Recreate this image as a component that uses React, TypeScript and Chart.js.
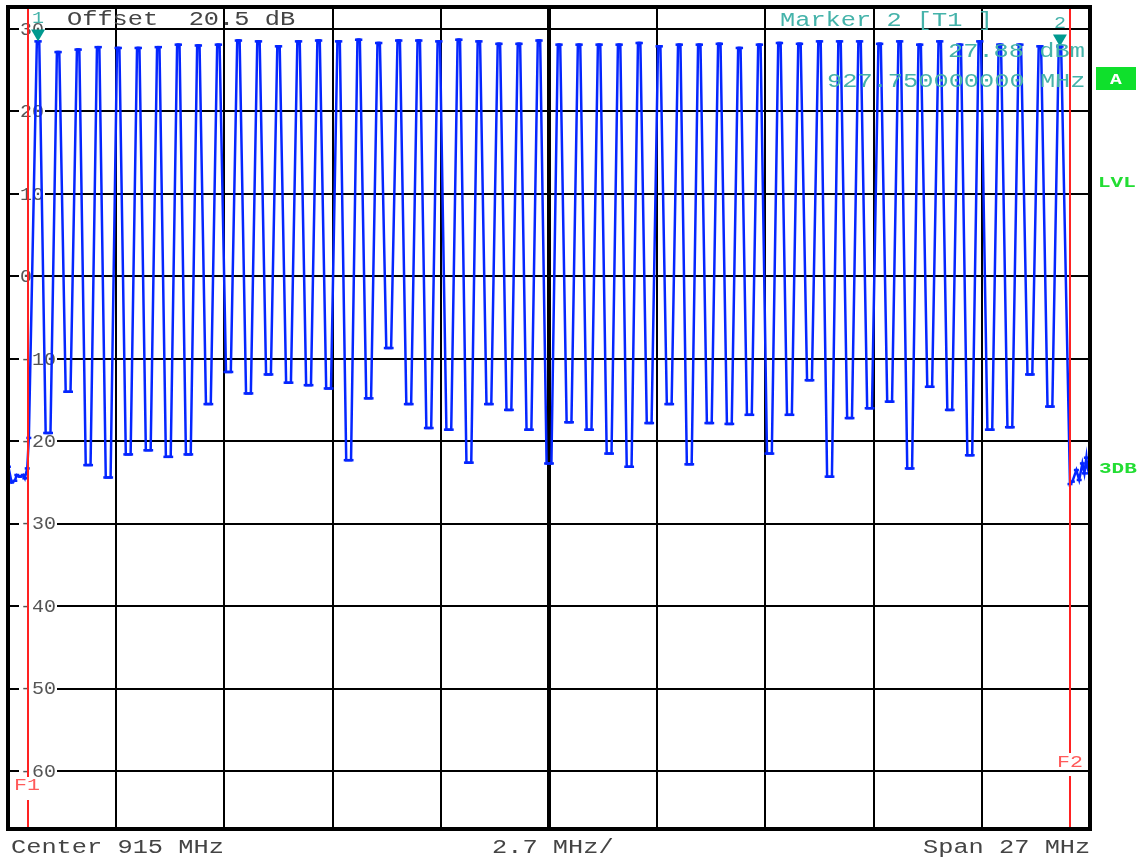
import React, { useEffect, useRef } from "react";
import { Chart, registerables } from "chart.js";

Chart.register(...registerables);

// ---- data ----
const centerFreq = 915; // MHz
const spanMHz = 27; // MHz
const divMHz = 2.7; // MHz / div
const refOffset = "20.5 dB";

const xGridFreqs = [901.5, 904.2, 906.9, 909.6, 912.3, 915.0, 917.7, 920.4, 923.1, 925.8, 928.5];
const yTickValues = [30, 20, 10, 0, -10, -20, -30, -40, -50, -60];
const yMin = -67.04;
const yMax = 32.67;

// hopping channel centres (MHz)
const channelFreqs = [
  902.25, 902.75, 903.25, 903.75, 904.25, 904.75, 905.25, 905.75, 906.25, 906.75,
  907.25, 907.75, 908.25, 908.75, 909.25, 909.75, 910.25, 910.75, 911.25, 911.75,
  912.25, 912.75, 913.25, 913.75, 914.25, 914.75, 915.25, 915.75, 916.25, 916.75,
  917.25, 917.75, 918.25, 918.75, 919.25, 919.75, 920.25, 920.75, 921.25, 921.75,
  922.25, 922.75, 923.25, 923.75, 924.25, 924.75, 925.25, 925.75, 926.25, 926.75,
  927.25, 927.75,
];
// peak level of each channel (dBm)
const peakLevels = [
  28.5, 27.2, 27.5, 27.8, 27.7, 27.7, 27.8, 28.1, 28.0, 28.1,
  28.6, 28.5, 27.9, 28.5, 28.6, 28.5, 28.7, 28.3, 28.6, 28.6,
  28.5, 28.7, 28.5, 28.2, 28.2, 28.6, 28.1, 28.1, 28.1, 28.1,
  28.3, 27.9, 28.1, 28.1, 28.2, 27.7, 28.1, 28.3, 28.2, 28.5,
  28.5, 28.5, 28.2, 28.5, 28.1, 28.5, 28.1, 28.5, 28.1, 28.1,
  27.9, 27.88,
];
// dip level between channel k and k+1 (dBm)
const troughLevels = [
  -19.0, -14.0, -22.9, -24.4, -21.6, -21.1, -21.9, -21.6, -15.5, -11.6,
  -14.2, -11.9, -12.9, -13.2, -13.6, -22.3, -14.8, -8.7, -15.5, -18.4,
  -18.6, -22.6, -15.5, -16.2, -18.6, -22.7, -17.7, -18.6, -21.5, -23.1,
  -17.8, -15.5, -22.8, -17.8, -17.9, -16.8, -21.5, -16.8, -12.6, -24.3,
  -17.2, -16.0, -15.2, -23.3, -13.4, -16.2, -21.7, -18.6, -18.3, -11.9,
  -15.8,
];
// noise floor outside the band
const leftNoiseFreqs = [901.51, 901.59, 901.67, 901.72, 901.8, 901.88, 901.92, 901.98, 902.02];
const leftNoiseLevels = [-23.1, -25.0, -24.8, -24.1, -24.3, -24.1, -24.5, -23.3, -19.6];
const rightNoiseFreqs = [928.0, 928.06, 928.16, 928.23, 928.31, 928.36, 928.41, 928.43, 928.48];
const rightNoiseLevels = [-25.2, -24.9, -23.5, -24.7, -22.7, -23.9, -22.0, -23.1, -23.9];

// markers
const markerFreqs = [902.25, 927.75];
const markerLevels = [28.5, 27.88];
const markerNames = ["1", "2"];
// display lines F1 / F2
const limitFreqs = [902.0, 928.0];
const limitNames = ["F1", "F2"];

// ---- styling ----
const TRACE = "#0526ff";
const TEAL_TXT = "#45b3aa";
const TEAL_MK = "#00998f";
const GREY_TXT = "#444";
const MONO = '"Liberation Mono", "DejaVu Sans Mono", monospace';

function txt(ctx: CanvasRenderingContext2D, s: string, x: number, base: number, sx: number) {
  ctx.save();
  ctx.translate(x, base);
  ctx.scale(sx, 1);
  ctx.fillText(s, 0, 0);
  ctx.restore();
}

function buildTrace() {
  const pts: { x: number; y: number }[] = [];
  leftNoiseFreqs.forEach((f, i) => pts.push({ x: f, y: leftNoiseLevels[i] }));
  channelFreqs.forEach((f, i) => {
    pts.push({ x: f - 0.03, y: peakLevels[i] });
    pts.push({ x: f + 0.03, y: peakLevels[i] });
    if (i < troughLevels.length) {
      pts.push({ x: f + 0.19, y: troughLevels[i] });
      pts.push({ x: f + 0.31, y: troughLevels[i] });
    }
  });
  rightNoiseFreqs.forEach((f, i) => pts.push({ x: f, y: rightNoiseLevels[i] }));
  return pts;
}

const overlay = {
  id: "saOverlay",
  beforeDatasetsDraw(chart: any) {
    const { ctx, scales } = chart;
    const y = scales.y;
    ctx.save();
    ctx.font = `18px ${MONO}`;
    ctx.textBaseline = "middle";
    for (const v of yTickValues) {
      const py = y.getPixelForValue(v);
      const s = String(v);
      ctx.fillStyle = "#fff";
      ctx.fillRect(19, py - 7, s.length * 12 + 2, 14);
      ctx.fillStyle = "#555";
      txt(ctx, s, 20, py + 1, 1.11);
    }
    ctx.restore();
  },
  afterDatasetsDraw(chart: any) {
    const { ctx, chartArea: ca, scales } = chart;
    const x = scales.x;
    const y = scales.y;
    ctx.save();

    // F1 / F2 lines
    const gaps = [
      [777, 800, 14, 790],
      [753, 776, 1057, 767],
    ];
    limitFreqs.forEach((f, i) => {
      const px = Math.round(x.getPixelForValue(f));
      const [g0, g1, lx, lb] = gaps[i];
      ctx.strokeStyle = "#ff2222";
      ctx.lineWidth = 2;
      ctx.beginPath();
      ctx.moveTo(px, ca.top);
      ctx.lineTo(px, g0);
      ctx.moveTo(px, g1);
      ctx.lineTo(px, ca.bottom);
      ctx.stroke();
      ctx.fillStyle = "#ff5a5a";
      ctx.font = `16px ${MONO}`;
      ctx.textBaseline = "alphabetic";
      txt(ctx, limitNames[i], lx, lb, 1.35);
    });

    // markers
    markerFreqs.forEach((f, i) => {
      const px = x.getPixelForValue(f);
      const py = y.getPixelForValue(markerLevels[i]);
      ctx.fillStyle = TEAL_MK;
      ctx.beginPath();
      ctx.moveTo(px - 7, py - 12);
      ctx.lineTo(px + 7, py - 12);
      ctx.lineTo(px, py);
      ctx.closePath();
      ctx.fill();
      ctx.fillStyle = TEAL_TXT;
      ctx.font = `16px ${MONO}`;
      ctx.textBaseline = "alphabetic";
      txt(ctx, markerNames[i], px - 6, py - 18, 1.25);
    });

    // border
    ctx.strokeStyle = "#000";
    ctx.lineWidth = 4;
    ctx.strokeRect(ca.left, ca.top, ca.right - ca.left, ca.bottom - ca.top);

    // header / footer text
    ctx.font = `20px ${MONO}`;
    ctx.textBaseline = "alphabetic";
    const sx = 1.267;
    ctx.fillStyle = GREY_TXT;
    txt(ctx, `Offset  ${refOffset}`, 67, 25, sx);
    txt(ctx, `Center ${centerFreq} MHz`, 11, 853, sx);
    txt(ctx, `${divMHz} MHz/`, 492, 853, sx);
    txt(ctx, `Span ${spanMHz} MHz`, 923, 853, sx);

    ctx.fillStyle = TEAL_TXT;
    txt(ctx, `Marker ${markerNames[1]} [T1 ]`, 780, 26, sx);
    txt(ctx, `${markerLevels[1].toFixed(2)} dBm`, 948, 57, sx);
    txt(ctx, `${markerFreqs[1].toFixed(9)} MHz`, 827, 87, sx);

    // right side annotations
    ctx.fillStyle = "#0fe02c";
    ctx.fillRect(1096, 67, 40, 23);
    ctx.fillStyle = "#fff";
    ctx.font = `bold 14px ${MONO}`;
    ctx.textAlign = "center";
    txt(ctx, "A", 1116, 84, 1.4);
    ctx.textAlign = "left";
    ctx.fillStyle = "#22dd33";
    txt(ctx, "LVL", 1098, 187, 1.5);
    txt(ctx, "3DB", 1099, 473, 1.5);

    ctx.restore();
  },
};

export default function App() {
  const ref = useRef<HTMLCanvasElement | null>(null);
  useEffect(() => {
    if (!ref.current) return;
    const chart = new Chart(ref.current, {
      type: "line",
      data: {
        datasets: [
          {
            data: buildTrace(),
            borderColor: TRACE,
            borderWidth: 2.5,
            tension: 0,
            pointStyle: "line",
            pointRadius: 2.5,
            pointBorderWidth: 2.5,
            pointBorderColor: TRACE,
            pointBackgroundColor: TRACE,
            fill: false,
          },
        ],
      },
      options: {
        responsive: false,
        maintainAspectRatio: false,
        animation: false,
        devicePixelRatio: 1,
        layout: { padding: { left: 8, top: 7, right: 56, bottom: 30 } },
        plugins: { legend: { display: false }, tooltip: { enabled: false } },
        events: [],
        scales: {
          x: {
            type: "linear",
            min: centerFreq - spanMHz / 2,
            max: centerFreq + spanMHz / 2,
            afterBuildTicks: (s: any) => {
              s.ticks = xGridFreqs.map((v) => ({ value: v }));
            },
            ticks: { display: false },
            grid: {
              color: "#000",
              lineWidth: (c: any) => (c.index === 5 ? 4 : 2),
              drawTicks: false,
            },
            border: { display: false },
          },
          y: {
            type: "linear",
            min: yMin,
            max: yMax,
            afterBuildTicks: (s: any) => {
              s.ticks = yTickValues.map((v) => ({ value: v }));
            },
            ticks: { display: false },
            grid: { color: "#000", lineWidth: 2, drawTicks: false },
            border: { display: false },
          },
        },
      },
      plugins: [overlay],
    } as any);
    return () => chart.destroy();
  }, []);
  return (
    <canvas
      ref={ref}
      width={1146}
      height={859}
      style={{ position: "fixed", left: 0, top: 0, width: 1146, height: 859, background: "#fff" }}
    />
  );
}
